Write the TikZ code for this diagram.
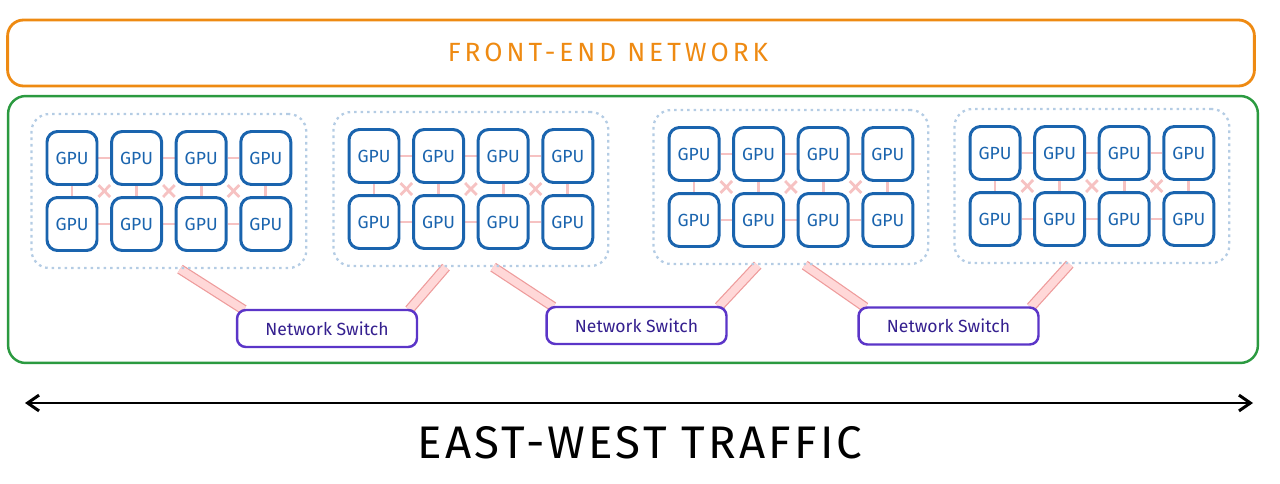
\documentclass[tikz,border=0pt]{standalone}
\usepackage{fontspec}
\setmainfont{Fira Sans}
\newfontfamily\wideface[LetterSpace=15]{Fira Sans}
\newfontfamily\trafficface[LetterSpace=7]{Fira Sans}
\usetikzlibrary{positioning}
\usetikzlibrary{fit}
\usetikzlibrary{calc}
\usetikzlibrary{backgrounds}
\usetikzlibrary{arrows.meta}
\definecolor{frontorange}{HTML}{EE8A12}
\definecolor{backgreen}{HTML}{2B9A40}
\definecolor{gpublue}{HTML}{1A64AE}
\definecolor{dotblue}{HTML}{B4CCE4}
\definecolor{meshpink}{HTML}{F6C2C2}
\definecolor{linkpink}{HTML}{FFD8D8}
\definecolor{linkred}{HTML}{EE9C9C}
\definecolor{switchviolet}{HTML}{5B35C8}
\definecolor{switchtext}{HTML}{35208F}
\tikzset{
    frontbox/.style = {rectangle, rounded corners=9pt, draw=frontorange, line width=1.6pt,
                       minimum width=24.94cm, minimum height=1.32cm},
    frontlabel/.style = {text=frontorange, font=\wideface\fontsize{15}{18}\selectfont},
    backbox/.style = {rectangle, rounded corners=10pt, draw=backgreen, line width=1.4pt,
                      minimum width=25.0cm, minimum height=5.34cm},
    gpu/.style = {rectangle, rounded corners=6pt, draw=gpublue, line width=1.7pt, fill=white,
                  minimum width=1.0cm, minimum height=1.06cm, text=gpublue,
                  font=\fontsize{10}{12}\selectfont},
    cluster/.style = {rectangle, rounded corners=10pt, draw=dotblue, line width=1.3pt,
                      dash pattern=on 1.5pt off 2.2pt, inner xsep=0.28cm, inner ysep=0.32cm},
    switchbox/.style = {rectangle, rounded corners=5pt, draw=switchviolet, line width=1.4pt, fill=white,
                        minimum width=3.6cm, minimum height=0.74cm, text=switchtext,
                        font=\fontsize{10}{12}\selectfont},
    mesh/.style = {meshpink, line width=1.6pt},
    uplink/.style = {draw=linkred, line width=0.7pt, double=linkpink, double distance=4.4pt},
    traffic/.style = {{Straight Barb[length=6.5pt,width=9pt]}-{Straight Barb[length=6.5pt,width=9pt]}, line width=1.7pt, black},
    trafficlabel/.style = {font=\trafficface\fontsize{26}{30}\selectfont}
}

\begin{document}
\begin{tikzpicture}[x=0.02cm, y=-0.02cm]
  \useasboundingbox (0,0) rectangle (1280,483);

  \node[frontbox] (front) at (631,53) {};
  \node[frontlabel] (frontlab) at (608,52) {FRONT-END NETWORK};
  \node[backbox] (back) at (633,229.5) {};

  % four GPU pods
  \foreach \c/\xa/\ya in {1/72/158, 2/374/156, 3/694/154, 4/995/153} {
    \foreach \k in {1,...,4} {
      \node[gpu] (g\c-1-\k) at ({\xa+64.6*(\k-1)},\ya) {GPU};
      \node[gpu] (g\c-2-\k) at ({\xa+64.6*(\k-1)},{\ya+66}) {GPU};
    }
    \node[cluster, fit=(g\c-1-1)(g\c-2-4)] (cl\c) {};
  }

  \node[switchbox] (sw1) at (327,328.5) {Network Switch};
  \node[switchbox] (sw2) at (636.5,325.5) {Network Switch};
  \node[switchbox] (sw3) at (948.5,326) {Network Switch};

  \begin{pgfonlayer}{background}
    \foreach \c in {1,...,4} {
      \foreach \k in {1,...,4}
        \draw[mesh] (g\c-1-\k) -- (g\c-2-\k);
      \foreach \k/\n in {1/2,2/3,3/4} {
        \draw[mesh] (g\c-1-\k) -- (g\c-1-\n);
        \draw[mesh] (g\c-2-\k) -- (g\c-2-\n);
        \draw[mesh] (g\c-1-\k) -- (g\c-2-\n);
        \draw[mesh] (g\c-2-\k) -- (g\c-1-\n);
      }
    }
    \draw[uplink] ($(cl1.south west)!0.54!(cl1.south east)$) -- ([xshift=0.16cm,yshift=-0.02cm]sw1.north west);
    \draw[uplink] ($(cl2.south west)!0.41!(cl2.south east)$) -- ([xshift=-0.18cm,yshift=-0.02cm]sw1.north east);
    \draw[uplink] ($(cl2.south west)!0.58!(cl2.south east)$) -- ([xshift=0.16cm,yshift=-0.02cm]sw2.north west);
    \draw[uplink] ($(cl3.south west)!0.38!(cl3.south east)$) -- ([xshift=-0.18cm,yshift=-0.02cm]sw2.north east);
    \draw[uplink] ($(cl3.south west)!0.55!(cl3.south east)$) -- ([xshift=0.16cm,yshift=-0.02cm]sw3.north west);
    \draw[uplink] ($(cl4.south west)!0.42!(cl4.south east)$) -- ([xshift=-0.18cm,yshift=-0.02cm]sw3.north east);
  \end{pgfonlayer}

  \coordinate (ewl) at (25,403);
  \coordinate (ewr) at (1253,403);
  \draw[traffic] (ewl) -- (ewr);
  \node[trafficlabel] (ew) at (640,443) {EAST-WEST TRAFFIC};

\end{tikzpicture}
\end{document}
